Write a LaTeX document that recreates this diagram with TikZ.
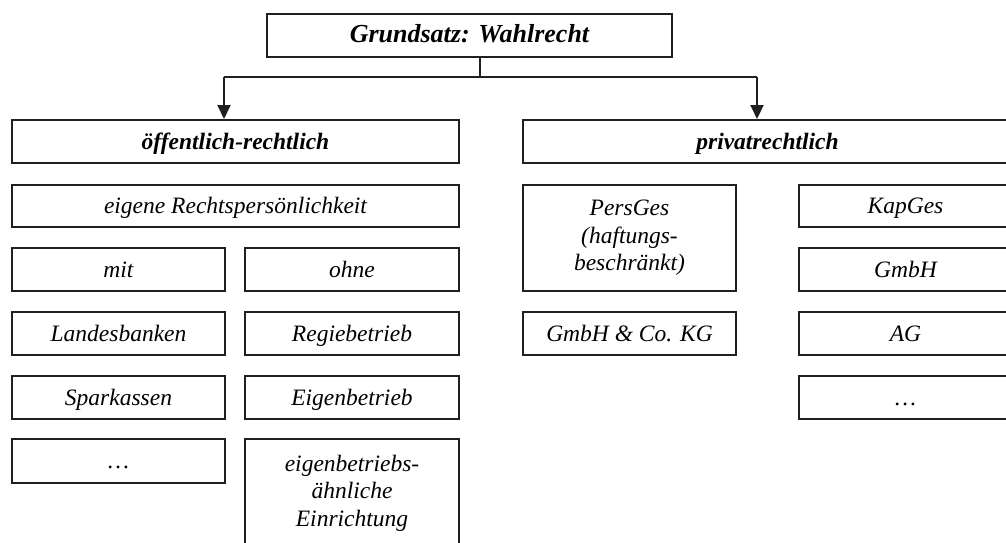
\documentclass[tikz,border=0pt]{standalone}
\usepackage{fontspec}
\setmainfont{Liberation Serif}
\usetikzlibrary{arrows.meta}
\begin{document}
\begin{tikzpicture}[x=1pt,y=-1pt,
  box/.style={draw=black!88, line width=2pt, fill=white, inner sep=0pt,
    align=center, text height=18pt, text depth=3pt,
    font=\fontsize{23.5}{27.5}\selectfont\itshape},
  multi/.style={text height={}, text depth={}},
  head/.style={box, font=\fontsize{23.5}{27.5}\selectfont\bfseries\itshape},
  title/.style={box, font=\fontsize{26}{30}\selectfont\bfseries\itshape},
  link/.style={draw=black!88, line width=2pt},
  tip/.style={-{Triangle[width=13pt,length=14pt]}}
]
\useasboundingbox (0,0) rectangle (1006,543);
\clip (0,0) rectangle (1006,543);

% top box
\node[title, minimum width=405pt, minimum height=43pt] (top) at (469.5,35.5) {Grundsatz: Wahlrecht};

% main branches
\node[head, minimum width=447pt, minimum height=43pt] (pub) at (235.5,141.5) {öffentlich-rechtlich};
\node[head, minimum width=489pt, minimum height=43pt] (priv) at (767.5,141.5) {privatrechtlich};

% connectors
\coordinate (split) at (480,77);
\coordinate (dl) at (224,77);
\coordinate (dr) at (757,77);
\draw[link] (split |- top.south) -- (split);
\draw[link] (dl) -- (dr);
\draw[link, tip] (dl) -- (dl |- pub.north);
\draw[link, tip] (dr) -- (dr |- priv.north);

% public-law column
\node[box, minimum width=447pt, minimum height=42pt] (rp) at (235.5,206) {eigene Rechtspersönlichkeit};
\node[box, minimum width=213pt, minimum height=43pt] (mit) at (118.5,269.5) {mit};
\node[box, minimum width=214pt, minimum height=43pt] (ohne) at (352,269.5) {ohne};
\node[box, minimum width=213pt, minimum height=43pt] (lb) at (118.5,333.5) {Landesbanken};
\node[box, minimum width=214pt, minimum height=43pt] (rb) at (352,333.5) {Regiebetrieb};
\node[box, minimum width=213pt, minimum height=43pt] (sk) at (118.5,397.5) {Sparkassen};
\node[box, minimum width=214pt, minimum height=43pt] (eb) at (352,397.5) {Eigenbetrieb};
\node[box, minimum width=213pt, minimum height=44pt] (etc1) at (118.5,461) {\dots};
\node[box, multi, minimum width=214pt, minimum height=108pt] (ebae) at (352,493) {eigenbetriebs-\\ähnliche\\Einrichtung};

% private-law column
\node[box, multi, minimum width=213pt, minimum height=106pt] (pg) at (629.5,238) {PersGes\\(haftungs-\\beschränkt)};
\node[box, minimum width=213pt, minimum height=43pt] (kg) at (629.5,333.5) {GmbH \& Co. KG};
\node[box, minimum width=213pt, minimum height=42pt] (kap) at (905.5,206) {KapGes};
\node[box, minimum width=213pt, minimum height=43pt] (gmbh) at (905.5,269.5) {GmbH};
\node[box, minimum width=213pt, minimum height=43pt] (ag) at (905.5,333.5) {AG};
\node[box, minimum width=213pt, minimum height=43pt] (etc2) at (905.5,397.5) {\dots};
\end{tikzpicture}
\end{document}
